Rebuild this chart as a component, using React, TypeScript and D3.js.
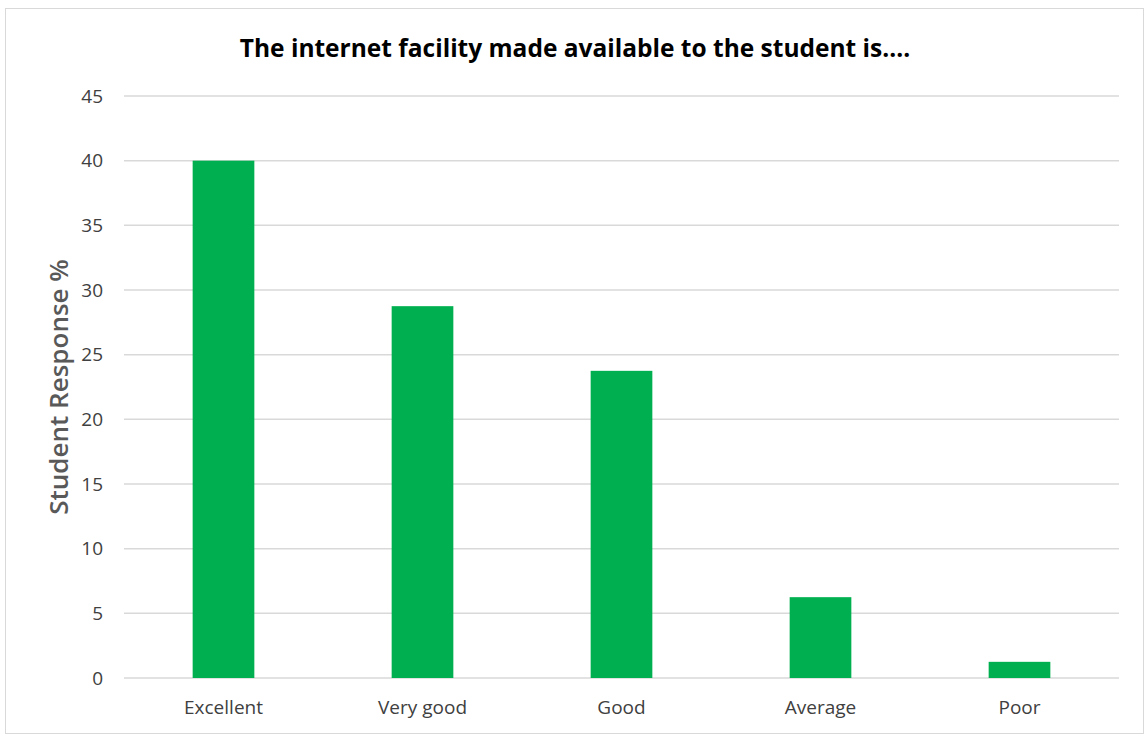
import React from "react";
import * as d3 from "d3";

const categories = ["Excellent", "Very good", "Good", "Average", "Poor"];
const values = [40, 28.75, 23.75, 6.25, 1.25];
const yTicks = [0, 5, 10, 15, 20, 25, 30, 35, 40, 45];
const title = "The internet facility made available to the student is....";
const yTitle = "Student Response %";

export default function App() {
  const W = 1146, H = 736;
  const left = 124, right = 1119, top = 96, bottom = 678;
  const x = d3.scaleBand<string>().domain(categories).range([left, right]).paddingInner(0.69).paddingOuter(0.345);
  const y = d3.scaleLinear().domain([0, 45]).range([bottom, top]);
  const font = "'Open Sans', sans-serif";
  return (
    <svg width={W} height={H} style={{ position: "absolute", left: 0, top: 0 }}>
      <rect x={0} y={0} width={W} height={H} fill="#fff" />
      <rect x={5.5} y={8.5} width={1138} height={725} fill="none" stroke="#d9d9d9" strokeWidth={1} />
      <text x={575} y={57} textAnchor="middle" fontFamily={font} fontWeight="bold" fontSize={24.5} fill="#000">{title}</text>
      {yTicks.map((t) => (
        <g key={t}>
          <line x1={left} x2={right} y1={y(t)} y2={y(t)} stroke="#d9d9d9" strokeWidth={1.5} />
          <text x={103} y={y(t)} dy="0.35em" textAnchor="end" fontFamily={font} fontSize={19} fill="#404040">{t}</text>
        </g>
      ))}
      {categories.map((c, i) => (
        <g key={c}>
          <rect x={x(c)} y={y(values[i])} width={x.bandwidth()} height={y(0) - y(values[i])} fill="#00b050" />
          <text x={(x(c) as number) + x.bandwidth() / 2} y={714} textAnchor="middle" fontFamily={font} fontSize={19} fill="#404040">{c}</text>
        </g>
      ))}
      <text transform={`translate(68,387) rotate(-90)`} textAnchor="middle" fontFamily={font} fontWeight={600} fontSize={26} fill="#595959">{yTitle}</text>
    </svg>
  );
}
